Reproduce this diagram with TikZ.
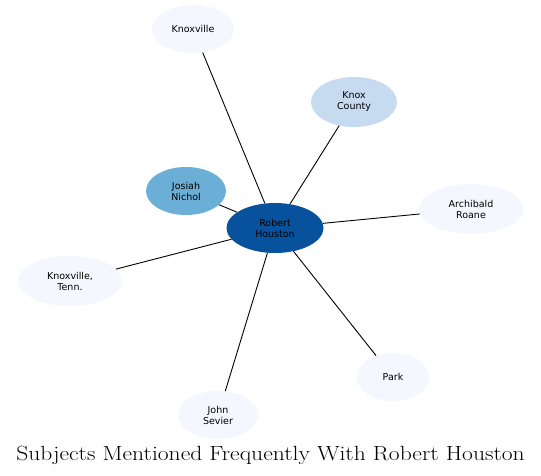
\documentclass[tikz,border=0pt]{standalone}
\usepackage{fontspec}
\usetikzlibrary{shapes.geometric}
\newfontfamily\nodefont{DejaVu Sans}
\definecolor{cdark}{HTML}{08519C}
\definecolor{cmid}{HTML}{6BAED6}
\definecolor{clight}{HTML}{C6DBEF}
\definecolor{cpale}{HTML}{F4F8FE}
\begin{document}
\begin{tikzpicture}[x=1pt,y=-1pt,
  ent/.style={ellipse, draw=none, inner sep=0pt, align=center,
    font=\nodefont\fontsize{9.5}{11}\selectfont},
  link/.style={draw=black, line width=0.9pt}]
\useasboundingbox (0,0) rectangle (541,476);
\fill[white] (0,0) rectangle (541,476);
\node[ent, fill=cdark, minimum width=97, minimum height=50] (rh) at (275,228) {Robert\\Houston};
\node[ent, fill=cmid, minimum width=80, minimum height=48] (jn) at (186,191) {Josiah\\Nichol};
\node[ent, fill=clight, minimum width=86, minimum height=50] (kc) at (354,102) {Knox\\County};
\node[ent, fill=cpale, minimum width=82, minimum height=48] (kv) at (193,29) {Knoxville};
\node[ent, fill=cpale, minimum width=104, minimum height=50] (ar) at (471,209) {Archibald\\Roane};
\node[ent, fill=cpale, minimum width=104, minimum height=50] (kt) at (70,281) {Knoxville,\\Tenn.};
\node[ent, fill=cpale, minimum width=72, minimum height=48] (pk) at (393,377) {Park};
\node[ent, fill=cpale, minimum width=80, minimum height=48] (js) at (218,415) {John\\Sevier};
\node[inner sep=0pt] (title) at (270.5,455) {\scalebox{1.15}[1]{\fontsize{20.5}{24}\selectfont Subjects Mentioned Frequently With Robert Houston}};
\draw[link] (rh) -- (jn);
\draw[link] (rh) -- (kc);
\draw[link] (rh) -- (kv);
\draw[link] (rh) -- (ar);
\draw[link] (rh) -- (kt);
\draw[link] (rh) -- (pk);
\draw[link] (rh) -- (js);
\end{tikzpicture}
\end{document}
